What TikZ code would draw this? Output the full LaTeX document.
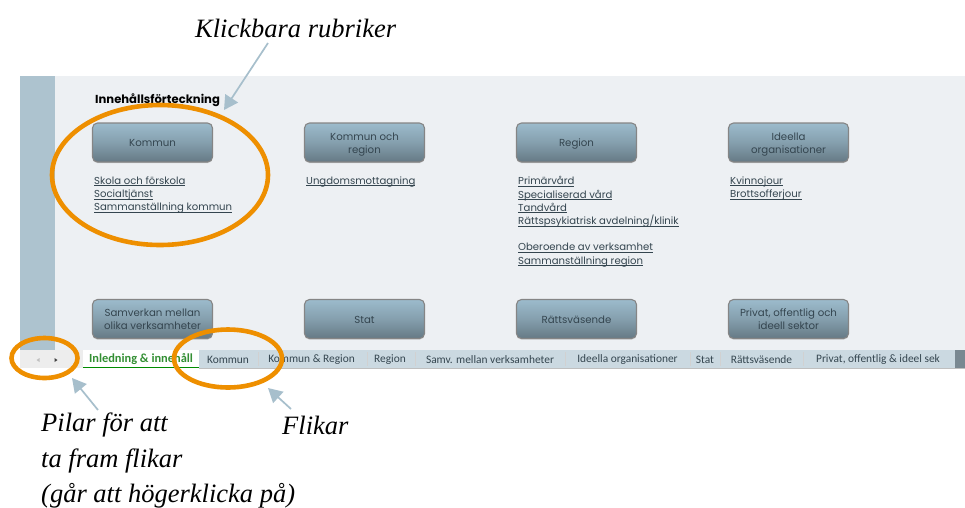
\documentclass[tikz,border=0pt]{standalone}
\usepackage{fontspec}
\setmainfont{Liberation Serif}
\newfontfamily\gothic{Poppins}
\newfontfamily\tabfont{Carlito}
\usetikzlibrary{shadows,arrows.meta}
\definecolor{panel}{HTML}{EDF0F3}
\definecolor{sidebar}{HTML}{ADC3CF}
\definecolor{tabbar}{HTML}{CBD9E1}
\definecolor{hl}{HTML}{EE8F00}
\definecolor{pointer}{HTML}{A7BFCC}
\definecolor{ink}{HTML}{34454F}
\definecolor{btncol}{HTML}{9CBBCC}
\newcommand{\btxt}[1]{\raisebox{-4pt}[0pt][0pt]{\begin{tabular}{@{}c@{}}#1\end{tabular}}}
\newsavebox{\lnkbox}
\newcommand{\lnk}[1]{\sbox{\lnkbox}{#1}\rlap{\usebox{\lnkbox}}\rlap{\smash{\raisebox{-1.7pt}{\rule{\wd\lnkbox}{0.65pt}}}}\hspace*{\wd\lnkbox}}
\tikzset{
 x=1pt,y=-1pt,
 btn/.style={draw=black!48,line width=1.1pt,rounded corners=5pt,minimum width=120pt,minimum height=39pt,
   top color=btncol,bottom color=btncol!65!black,middle color=btncol!85!black,
   drop shadow={shadow xshift=0pt,shadow yshift=-1.2pt,opacity=.3},
   align=center,inner sep=0pt,text=ink,font=\gothic\fontsize{10.2}{13}\selectfont},
 linklist/.style={anchor=north west,align=left,inner sep=0pt,text=ink,font=\gothic\fontsize{10.1}{13.2}\selectfont},
 tabname/.style={inner sep=0pt,text=ink,font=\tabfont\fontsize{11.4}{13}\selectfont},
 callout/.style={anchor=west,inner sep=0pt,font=\itshape\fontsize{26.5}{30}\selectfont},
 ring/.style={draw=hl,line width=4.6pt,fill=none},
 pointerline/.style={draw=pointer,line width=1.7pt,-{Triangle[length=14pt,width=15pt,fill=pointer]}},
 tabsep/.style={draw=black!18,line width=.6pt},
}
\begin{document}
\begin{tikzpicture}
\useasboundingbox (0,0) rectangle (965,507);
\fill[white] (0,0) rectangle (965,507);
\fill[panel] (20,76) rectangle (965,350);
\fill[sidebar] (20,76) rectangle (55,350);
% tab bar
\fill[tabbar] (83,350) rectangle (965,368);
\fill[black!7] (20,350) rectangle (83,368);
\fill[white] (83,350) rectangle (199,368);
\draw[draw=green!55!black,line width=1pt] (83,367.5) -- (199,367.5);
\fill[black!30!sidebar] (955,350) rectangle (965,368);
\draw[black!25,line width=.5pt] (199,368) -- (965,368);
\foreach \s in {258,367,415,565,690,720,803}{\draw[tabsep] (\s,352) -- (\s,366);}
\fill[black!25] (39.5,358) -- (36.5,360) -- (39.5,362) -- cycle;
\fill[black!75] (54.5,358) -- (57.5,360) -- (54.5,362) -- cycle;

\node[inner sep=0pt,anchor=west,font=\gothic\bfseries\fontsize{11.6}{13}\selectfont] (title) at (95,100) {Innehållsförteckning};

\node[btn] (b1) at (152.5,142.5) {\btxt{Kommun}};
\node[btn] (b2) at (364.5,142.5) {\btxt{Kommun och\\region}};
\node[btn] (b3) at (576.5,142.5) {\btxt{Region}};
\node[btn] (b4) at (788.5,142.5) {\btxt{Ideella\\organisationer}};
\node[btn] (b5) at (152.5,319) {\btxt{Samverkan mellan\\olika verksamheter}};
\node[btn] (b6) at (364.5,319) {\btxt{Stat}};
\node[btn] (b7) at (576.5,319) {\btxt{Rättsväsende}};
\node[btn] (b8) at (788.5,319) {\btxt{Privat, offentlig och\\ideell sektor}};

\node[linklist] (l1) at (94,176.5) {\lnk{Skola och förskola}\\\lnk{Socialtjänst}\\\lnk{Sammanställning kommun}};
\node[linklist] (l2) at (306,176.5) {\lnk{Ungdomsmottagning}};
\node[linklist] (l3) at (518,176.5) {\lnk{Primärvård}\\\lnk{Specialiserad vård}\\\lnk{Tandvård}\\\lnk{Rättspsykiatrisk avdelning/klinik}\\[13.2pt]\lnk{Oberoende av verksamhet}\\\lnk{Sammanställning region}};
\node[linklist] (l4) at (730,176.5) {\lnk{Kvinnojour}\\\lnk{Brottsofferjour}};

\node[tabname,font=\tabfont\bfseries\fontsize{12.4}{13}\selectfont,text=green!45!black!80] (t1) at (141,359.5) {Inledning \& innehåll};
\node[tabname] (t2) at (228,359.5) {Kommun};
\node[tabname] (t3) at (311.5,359.5) {Kommun \& Region};
\node[tabname] (t4) at (390,359.5) {Region};
\node[tabname] (t5) at (490,359.5) {Samv. mellan verksamheter};
\node[tabname] (t6) at (627.5,359.5) {Ideella organisationer};
\node[tabname] (t7) at (705,359.5) {Stat};
\node[tabname] (t8) at (761.5,359.5) {Rättsväsende};
\node[tabname] (t9) at (878,359.5) {Privat, offentlig \& ideel sek};

\draw[ring] (160,175) ellipse [x radius=108,y radius=70] node (r1) {};
\draw[ring] (44.5,358) ellipse [x radius=33,y radius=20] node (r2) {};
\draw[ring] (228,358.5) ellipse [x radius=54,y radius=29] node (r3) {};

\node[callout] (c1) at (195,28) {Klickbara rubriker};
\node[callout] (c2) at (41,425) {Pilar för att};
\node[callout] (c3) at (41,461) {ta fram flikar};
\node[callout] (c4) at (41,496) {(går att högerklicka på)};
\node[callout] (c5) at (282,425) {Flikar};

\coordinate (p1s) at (268,43);
\coordinate (p1e) at (224,110);
\coordinate (p2s) at (98,410);
\coordinate (p2e) at (72,378);
\coordinate (p3s) at (291,409);
\coordinate (p3e) at (268,388);
\draw[pointerline] (p1s) -- (p1e);
\draw[pointerline] (p2s) -- (p2e);
\draw[pointerline] (p3s) -- (p3e);
\end{tikzpicture}
\end{document}
